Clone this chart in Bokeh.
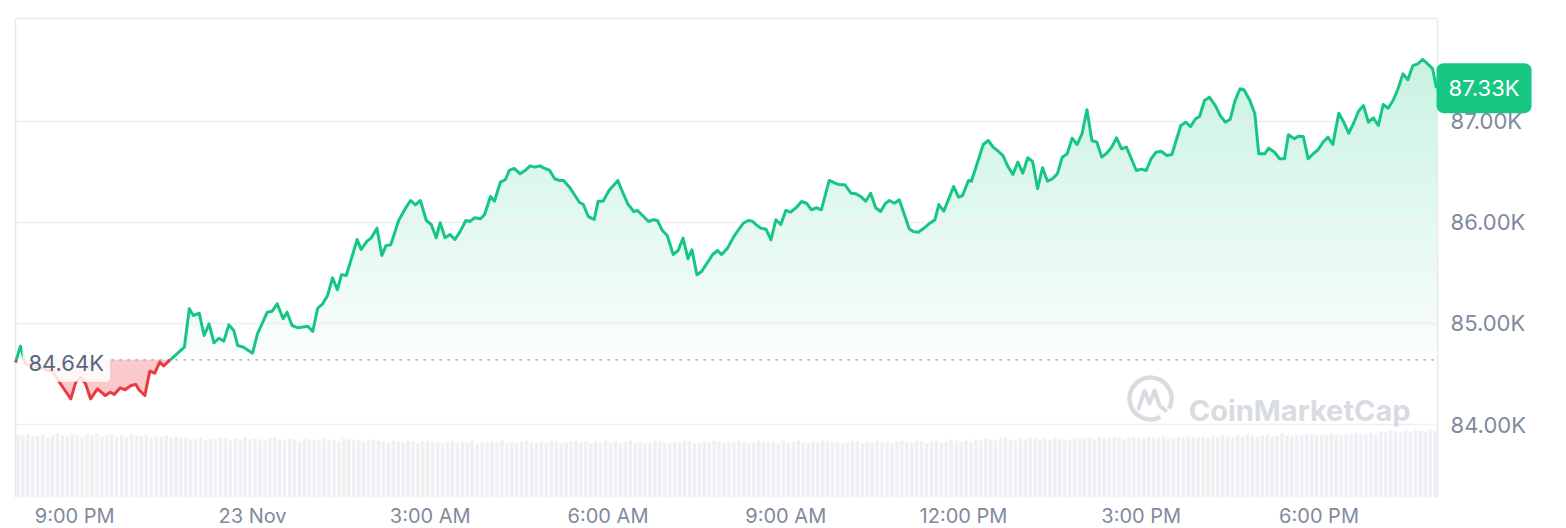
import numpy as np
from datetime import datetime, timedelta
from bokeh.plotting import figure
from bokeh.models import Range1d, FixedTicker, CustomJSTickFormatter, Label, LinearAxis, DatetimeAxis
from bokeh.embed import file_html
from bokeh.resources import INLINE
from bokeh.core.properties import value

# ---------------- data ----------------
START = datetime(2025, 11, 22, 20, 0)          # window start (8:00 PM, 22 Nov)
BASELINE = 84640                                # 24h open price, "84.64K"
LAST_PRICE = 87330                              # "87.33K"

# minutes after START, price in USD
t_min = [0,5,10,25,38,46,56,61,66,71,76,
         83,91,96,100,106,111,117,122,125,131,
         136,141,146,150,156,171,176,180,186,191,
         196,201,206,211,216,221,225,231,240,245,
         255,260,265,271,275,280,286,296,301,306,
         311,316,321,326,330,335,346,350,356,360,
         366,371,375,380,388,394,400,405,410,416,
         421,426,430,435,440,445,450,456,460,465,
         471,475,481,485,491,496,500,505,511,517,
         521,526,531,536,541,546,551,555,561,571,
         575,580,586,590,595,601,610,614,620,626,
         630,635,641,646,650,655,660,666,671,676,
         681,685,690,695,706,711,715,721,728,737,
         742,746,751,755,760,765,770,775,780,785,
         791,796,801,806,811,816,824,830,835,840,
         846,851,856,861,866,871,876,881,885,890,
         895,905,909,914,920,926,931,935,940,950,
         955,959,965,968,980,985,990,995,1000,1005,
         1010,1015,1020,1025,1030,1035,1040,1045,1050,1055,
         1060,1065,1070,1075,1080,1085,1090,1095,1100,1105,
         1110,1115,1120,1125,1130,1135,1140,1145,1150,1155,
         1160,1166,1171,1180,1185,1190,1195,1199,1204,1209,
         1215,1220,1225,1230,1235,1240,1244,1250,1255,1259,
         1265,1269,1275,1280,1285,1289,1295,1299,1304,1309,
         1314,1319,1324,1329,1334,1340,1345,1350,1355,1360,
         1365,1370,1375,1380,1385,1390,1395,1400,1405,1410,
         1415,1420,1425,1430,1435,1439]

price = [84614,84775,84600,84560,84520,84396,84254,84419,84468,84403,84254,
         84353,84287,84320,84297,84363,84344,84386,84396,84344,84287,
         84528,84508,84617,84581,84634,84765,85146,85079,85102,84881,
         84997,84809,84854,84825,84987,84931,84782,84765,84706,84898,
         85112,85122,85195,85047,85112,84980,84957,84973,84921,85151,
         85195,85277,85452,85334,85482,85475,85832,85733,85815,85845,
         85944,85673,85769,85779,86020,86126,86218,86175,86218,86020,
         85980,85849,85997,85849,85881,85832,85904,86020,86010,86047,
         86037,86079,86257,86211,86399,86423,86515,86535,86482,86522,
         86561,86548,86561,86535,86515,86433,86416,86416,86350,86201,
         86178,86059,86030,86211,86211,86317,86416,86317,86185,86109,
         86119,86069,86010,86027,86020,85921,85871,85683,85723,85845,
         85641,85730,85482,85518,85683,85723,85683,85746,85871,85993,
         86020,86013,85970,85944,85934,85829,86027,85980,86119,86102,
         86152,86208,86191,86126,86146,86126,86416,86389,86373,86373,
         86290,86284,86257,86211,86290,86146,86109,86191,86218,86191,
         86225,85938,85911,85904,85944,85993,86027,86178,86112,86356,
         86251,86267,86416,86409,86772,86812,86746,86706,86663,86554,
         86475,86597,86488,86641,86604,86334,86542,86409,86433,86482,
         86647,86680,86835,86772,86878,87116,86812,86795,86647,86686,
         86746,86839,86730,86746,86631,86515,86528,86515,86631,86696,
         86706,86663,86673,86960,86993,86950,87027,87049,87208,87241,
         87158,87059,86993,87020,87208,87324,87314,87208,87076,86680,
         86680,86736,86696,86631,86631,86868,86829,86855,86851,86631,
         86680,86720,86795,86845,86772,87082,86993,86884,86983,87102,
         87158,86993,87037,86960,87168,87132,87208,87324,87472,87413,
         87554,87571,87614,87571,87522,87330]

# relative 5-minute volume (288 bars, one per 5 minutes)
volume = [63,62,64,61,62,63,60,62,64,62,61,63,62,60,63,62,64,61,62,63,61,62,60,63,
          62,61,63,60,62,61,62,60,61,59,60,58,59,60,57,59,58,60,59,57,59,58,60,58,
          59,58,57,59,60,58,57,59,58,56,59,58,57,58,59,57,58,56,59,58,57,58,56,57,
          58,57,56,55,57,56,55,57,56,54,56,57,55,56,54,56,57,55,56,55,57,54,56,55,
          56,55,57,54,56,55,56,57,55,54,56,55,57,56,54,55,56,57,55,56,54,56,55,57,
          55,56,54,56,57,55,56,54,55,57,56,55,54,56,55,57,56,54,55,56,55,57,56,55,
          56,55,57,56,54,55,57,56,55,56,54,57,55,56,57,55,54,56,55,57,56,55,56,54,
          55,57,56,54,56,55,57,56,55,54,56,57,56,55,57,56,54,56,57,55,56,58,57,56,
          57,56,58,57,59,58,57,59,60,58,57,59,58,60,59,57,59,58,60,59,58,57,59,60,
          59,60,58,61,60,59,61,60,58,60,61,59,60,61,59,60,62,60,59,61,60,62,61,60,
          61,60,62,61,63,61,60,62,61,63,62,61,62,63,61,62,64,62,61,63,62,64,63,62,
          63,62,64,63,62,64,63,65,64,63,65,64,66,65,67,66,65,67,66,68,67,66,68,67]

y_ticks = [84000, 85000, 86000, 87000]
x_tick_minutes = [60, 240, 420, 600, 780, 960, 1140, 1320]
x_tick_labels = ["9:00 PM", "23 Nov", "3:00 AM", "6:00 AM", "9:00 AM",
                 "12:00 PM", "3:00 PM", "6:00 PM"]

# ---------------- helpers ----------------
EPOCH = datetime(1970, 1, 1)
def to_ms(m):
    return (START + timedelta(minutes=float(m)) - EPOCH).total_seconds() * 1000.0

GREEN = "#16c784"
RED = "#ea3943"
AXIS_TXT = "#808a9d"
BORDER = "#e8eaee"
FONT = "Inter"

WIN_END = 1440            # minutes in the 24h window
PRICE_TOP = 88020         # top edge of the price panel
PRICE_BOTTOM = 83277      # bottom edge of the volume strip

# split the line at the baseline crossings
t = np.array(t_min, float)
y = np.array(price, float)
xs, ys = [t[0]], [y[0]]
for i in range(1, len(t)):
    y0, y1 = y[i - 1], y[i]
    if (y0 - BASELINE) * (y1 - BASELINE) < 0:
        f = (BASELINE - y0) / (y1 - y0)
        xs.append(t[i - 1] + f * (t[i] - t[i - 1]))
        ys.append(BASELINE)
    xs.append(t[i]); ys.append(y[i])
xs = np.array([to_ms(m) for m in xs])
ys = np.array(ys)
green_y = np.where(ys >= BASELINE, ys, np.nan)
red_y = np.where(ys <= BASELINE, ys, np.nan)

# ---------------- figure ----------------
# the frame covers the canvas to the right/below so the axes (fixed inside it)
# and the price tag are not clipped
p = figure(width=1566, height=528, x_axis_type=None, y_axis_type=None,
           x_range=Range1d(to_ms(-8.1), to_ms(1570.6)), y_range=Range1d(82970.3, 88099),
           output_backend="svg", toolbar_location=None,
           min_border_left=7, min_border_right=0, min_border_top=10, min_border_bottom=0)
p.extra_y_ranges = {"vol": Range1d(-31, 487)}
p.background_fill_color = "white"
p.border_fill_color = "white"
p.outline_line_color = None
p.grid.visible = False

# right price axis, fixed at the panel's right edge
yax = LinearAxis(ticker=FixedTicker(ticks=y_ticks), fixed_location=to_ms(WIN_END),
                 formatter=CustomJSTickFormatter(code="return (tick/1000).toFixed(2) + 'K';"))
# bottom time axis, fixed under the volume strip
tick_ms = [to_ms(m) for m in x_tick_minutes]
xax = DatetimeAxis(ticker=FixedTicker(ticks=tick_ms), fixed_location=PRICE_BOTTOM,
                   formatter=CustomJSTickFormatter(args=dict(tvals=tick_ms, tlabels=x_tick_labels), code="""
    for (let i = 0; i < tvals.length; i++) { if (Math.abs(tvals[i] - tick) < 1000) return tlabels[i]; }
    return '';
"""))
for ax in (xax, yax):
    ax.axis_line_color = None
    ax.major_tick_line_color = None
    ax.minor_tick_line_color = None
    ax.major_label_text_font = FONT
    ax.major_label_text_color = AXIS_TXT
yax.major_label_text_font_size = "22px"
xax.major_label_text_font_size = "20px"
yax.major_label_standoff = 7
xax.major_label_standoff = 0
p.add_layout(yax, "right")
p.add_layout(xax, "below")

# volume bars
bar_x = [to_ms(5 * i + 2.5) for i in range(len(volume))]
p.vbar(x=bar_x, top=volume, bottom=0, width=5 * 60 * 1000 * 0.72, y_range_name="vol",
       fill_color="#eef0f3", line_color=None)

# green gradient fill: opaque steps, each the blended colour at its level,
# stacked bottom-up; each step's top edge is the price line itself
def blend(a):
    r0, g0, b0 = int(GREEN[1:3], 16), int(GREEN[3:5], 16), int(GREEN[5:7], 16)
    return "#%02x%02x%02x" % tuple(int(round(255 + (c - 255) * a)) for c in (r0, g0, b0))

N = 64
top_ref = 87800.0
levels = np.linspace(BASELINE, top_ref, N + 1)[:-1]
for lev in levels:
    a = 0.02 + (0.25 - 0.02) * (lev - BASELINE) / (top_ref - BASELINE)
    p.varea(x=xs, y1=np.minimum(ys, lev), y2=ys, fill_color=blend(a), fill_alpha=1.0)

# red fill below baseline
p.varea(x=xs, y1=np.minimum(ys, BASELINE), y2=BASELINE, fill_color=RED, fill_alpha=0.27)

# grid lines at the price ticks, limited to the chart panel (drawn over the fill)
p.segment(x0=to_ms(0), x1=to_ms(WIN_END), y0=y_ticks, y1=y_ticks,
          line_color="#eceff3", line_width=1.3, line_alpha=0.9)
# panel border (top, left, right)
p.segment(x0=[to_ms(0), to_ms(0), to_ms(WIN_END)], x1=[to_ms(WIN_END), to_ms(0), to_ms(WIN_END)],
          y0=[PRICE_TOP, PRICE_BOTTOM, PRICE_BOTTOM], y1=[PRICE_TOP, PRICE_TOP, PRICE_TOP],
          line_color=BORDER, line_width=1.6)

# baseline dotted (limited to the panel)
p.segment(x0=[to_ms(0)], x1=[to_ms(WIN_END)], y0=[BASELINE], y1=[BASELINE],
          line_color="#a3abbd", line_dash="2 6", line_width=1.6)

# price line
p.line(xs, green_y, line_color=GREEN, line_width=3, line_join="round")
p.line(xs, red_y, line_color=RED, line_width=3, line_join="round")

# watermark
wm = "#d8dce2"
cx, cy = 1149.4, 84257
p.arc(x=[to_ms(cx)], y=[cy], radius=21, radius_units="screen", start_angle=-0.5,
      end_angle=5.2, line_color=wm, line_width=4.5)
mx = [-12, -6, -1, 4, 9, 15]
my = [10, -8, 5, -8, 7, 12]
p.line([to_ms(cx + dx * 1440 / 1422) for dx in mx], [cy - dy * 1000 / 101 for dy in my],
       line_color=wm, line_width=4, line_join="round", line_cap="round")
p.text(x=[to_ms(1188)], y=[84139], text=["CoinMarketCap"], text_font=value(FONT),
       text_font_style="bold", text_font_size="29px", text_color=wm,
       text_baseline="alphabetic", text_align="left")

# labels
p.add_layout(Label(x=to_ms(7.1), y=BASELINE, y_offset=-3, text="84.64K", text_font=FONT,
                   text_font_size="22px", text_color="#58667e", text_baseline="middle",
                   text_align="left", background_fill_color="white",
                   background_fill_alpha=0.85, padding=6, border_radius=4))
p.add_layout(Label(x=to_ms(WIN_END), y=LAST_PRICE, x_offset=-1, text="87.33K", text_font=FONT,
                   text_font_size="22px", text_color="white", text_baseline="middle",
                   text_align="left", background_fill_color=GREEN,
                   background_fill_alpha=1.0, padding=12, border_radius=7))

open("out.html", "w").write(file_html(p, INLINE))
